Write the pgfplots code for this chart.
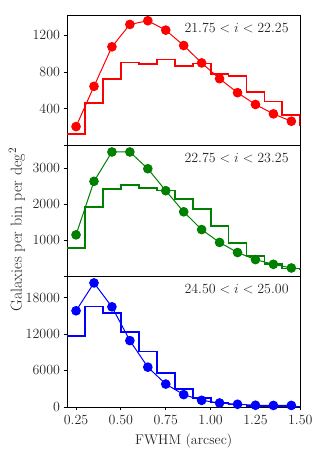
\RequirePackage{fix-cm}
\documentclass[border=0pt]{standalone}
\usepackage{pgfplots}
\pgfplotsset{compat=1.18}
\usepgfplotslibrary{groupplots}
\usetikzlibrary{calc}

% measured counts (circles) and model histogram (steps), per magnitude bin
\pgfplotstableread{
x     a     b     c
0.25  207   1150  15820
0.35  644   2635  20400
0.45  1073  3450  16470
0.55  1316  3450  10910
0.65  1356  2985  6545
0.75  1254  2375  3764
0.85  1087  1790  2030
0.95  898   1297  1090
1.05  727   940   650
1.15  575   660   440
1.25  447   464   280
1.35  345   333   250
1.45  265   231   250
}\pts
\pgfplotstableread{
x     a     b     c
0.2   127   789   11730
0.3   465   1925  16530
0.4   727   2415  15490
0.5   902   2525  12380
0.6   887   2460  9110
0.7   935   2380  5630
0.8   862   2145  3010
0.9   891   1872  1530
1.0   775   1389  720
1.1   756   928   390
1.2   582   556   160
1.3   480   344   110
1.4   335   214   90
1.5   218   190   80
}\hist

\newcommand{\bigfont}{\fontsize{14}{16}\selectfont}

\begin{document}
\begin{tikzpicture}
\begin{groupplot}[
  group style={group size=1 by 3, vertical sep=0pt, x descriptions at=edge bottom},
  width=233pt, height=130.5pt, scale only axis,
  xmin=0.2, xmax=1.5, ymin=0,
  xtick={0.25,0.5,0.75,1.0,1.25,1.5},
  xticklabel style={/pgf/number format/.cd,fixed,fixed zerofill,precision=2,/tikz/.cd,yshift=-1pt},
  scaled y ticks=false,
  yticklabel style={/pgf/number format/.cd,fixed,1000 sep={}},
  tick align=outside, major tick length=3.5pt,
  xtick pos=bottom, ytick pos=left,
  axis line style={line width=0.8pt},
  tick style={line width=0.8pt, black},
  every tick label/.append style={font=\bigfont, text=black!85},
  clip=true,
]
\nextgroupplot[ymax=1418, ytick={0,400,800,1200}, yticklabels={,400,800,1200}, xtick=\empty]
\addplot[red, line width=1.8pt, const plot mark left] table[x=x,y=a] {\hist};
\addplot[red, line width=1pt, mark=*, mark size=4.3pt] table[x=x,y=a] {\pts};
\node[anchor=north east, text=black!85, font=\bigfont] at (rel axis cs:0.965,0.965) {$21.75 < i < 22.25$};

\nextgroupplot[ymax=3625, ytick={0,1000,2000,3000}, yticklabels={,1000,2000,3000}, xtick=\empty]
\addplot[black!50!green, line width=1.8pt, const plot mark left] table[x=x,y=b] {\hist};
\addplot[black!50!green, line width=1pt, mark=*, mark size=4.3pt] table[x=x,y=b] {\pts};
\node[anchor=north east, text=black!85, font=\bigfont] at (rel axis cs:0.965,0.965) {$22.75 < i < 23.25$};

\nextgroupplot[ymax=21490, ytick={0,6000,12000,18000},
  xlabel={FWHM (arcsec)},
  xlabel style={text=black!85, font=\bigfont, yshift=-3pt}]
\addplot[blue, line width=1.8pt, const plot mark left] table[x=x,y=c] {\hist};
\addplot[blue, line width=1pt, mark=*, mark size=4.3pt] table[x=x,y=c] {\pts};
\node[anchor=north east, text=black!85, font=\bigfont] at (rel axis cs:0.965,0.965) {$24.50 < i < 25.00$};
\end{groupplot}
\node[rotate=90, text=black!85, font=\fontsize{16}{18}\selectfont]
  at ($(group c1r1.north west)!0.5!(group c1r3.south west)+(-50pt,-18.5pt)$) {Galaxies per bin per deg$^2$};
\pgfresetboundingbox
\path[use as bounding box] ($(group c1r1.north west)+(-67pt,15pt)$) rectangle ($(group c1r3.south east)+(22pt,-52pt)$);
\end{tikzpicture}
\end{document}
